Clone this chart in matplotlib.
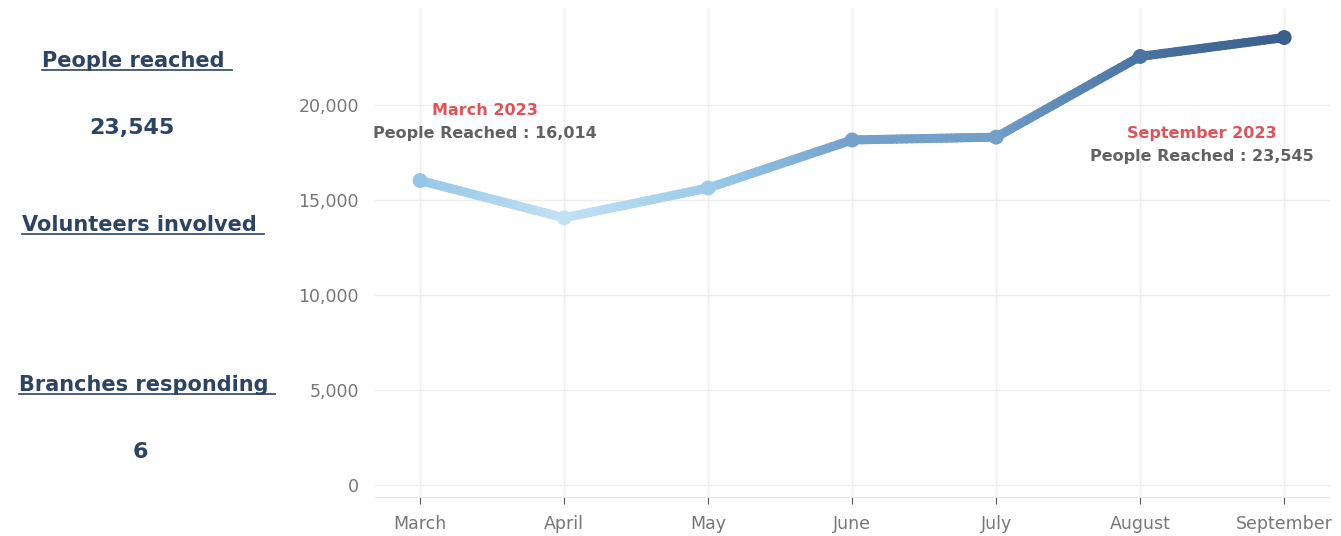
import numpy as np
import matplotlib.pyplot as plt
from matplotlib.collections import LineCollection
from matplotlib.colors import LinearSegmentedColormap
from matplotlib.lines import Line2D

months = ["March", "April", "May", "June", "July", "August", "September"]
people = [16014, 14050, 15620, 18150, 18300, 22550, 23545]
yticks = [0, 5000, 10000, 15000, 20000]

plt.rcParams['font.family'] = ['DejaVu Sans']

navy = "#2b4463"
red = "#e0525a"
grey = "#616161"

fig = plt.figure(figsize=(13.41, 5.36), dpi=100)
ax = fig.add_axes([0.28, 0.073, 0.712, 0.912])

x = np.arange(len(months))
y = np.array(people, dtype=float)

stops = [(14000, "#c2e2f5"), (16000, "#95c6e7"), (18200, "#72a0ca"), (22550, "#4a74a3"), (23545, "#3b5f8c")]
cmap = LinearSegmentedColormap.from_list(
    "blues", [((v - 14000) / (23545 - 14000), c) for v, c in stops])
norm = plt.Normalize(14000, 23545)

# gradient line: split each segment into small pieces
xs, ys = [], []
for i in range(len(x) - 1):
    t = np.linspace(0, 1, 30)
    xs.append(x[i] + (x[i + 1] - x[i]) * t)
    ys.append(y[i] + (y[i + 1] - y[i]) * t)
xs = np.concatenate(xs)
ys = np.concatenate(ys)
pts = np.array([xs, ys]).T.reshape(-1, 1, 2)
segs = np.concatenate([pts[:-1], pts[1:]], axis=1)
lc = LineCollection(segs, cmap=cmap, norm=norm, linewidth=6.5, capstyle='round', zorder=3)
lc.set_array((ys[:-1] + ys[1:]) / 2)
ax.add_collection(lc)
ax.scatter(x, y, s=95, c=y, cmap=cmap, norm=norm, zorder=4)

ax.set_xlim(-0.31, 6.32)
ax.set_ylim(-650, 25100)
ax.set_xticks(x)
ax.set_xticklabels(months, fontsize=12.5, color="#777777")
ax.set_yticks(yticks)
ax.set_yticklabels([f"{v:,}" for v in yticks], fontsize=12.5, color="#777777")
ax.grid(True, color="#eeeeee", linewidth=1)
ax.set_axisbelow(True)
for s in ["top", "right", "left"]:
    ax.spines[s].set_visible(False)
ax.spines["bottom"].set_color("#e6e6e6")
ax.tick_params(axis='y', length=0, pad=12)
ax.tick_params(axis='x', length=5, color="#555555", pad=8)

# annotations
ax.text(0.45, 19700, "March 2023", color=red, fontsize=11.5, fontweight='bold', ha='center', va='center')
ax.text(0.45, 18500, "People Reached : 16,014", color=grey, fontsize=11.5, fontweight='bold', ha='center', va='center')
ax.text(5.43, 18470, "September 2023", color=red, fontsize=11.5, fontweight='bold', ha='center', va='center')
ax.text(5.43, 17260, "People Reached : 23,545", color=grey, fontsize=11.5, fontweight='bold', ha='center', va='center')

# KPI panel on the left
headers = [("People reached ", 137, 61), ("Volunteers involved ", 143, 225), ("Branches responding ", 147, 385)]
values = [("23,545", 132, 128), ("6", 140, 452)]

fig.canvas.draw()
renderer = fig.canvas.get_renderer()
W, H = 1341, 536
for label, px, py in headers:
    t = fig.text(px / W, 1 - py / H, label, color=navy, fontsize=15, fontweight='bold',
                 ha='center', va='center')
    bb = t.get_window_extent(renderer)
    uy = (bb.y0 + 1) / H
    fig.add_artist(Line2D([bb.x0 / W, bb.x1 / W], [uy, uy], color=navy, linewidth=1.2))
for label, px, py in values:
    fig.text(px / W, 1 - py / H, label, color=navy, fontsize=16, fontweight='bold',
             ha='center', va='center')

fig.savefig("out.png", dpi=100)
